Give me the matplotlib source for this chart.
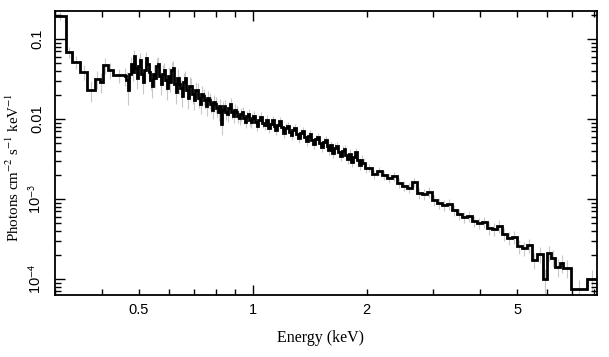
import numpy as np
import matplotlib
matplotlib.use("Agg")
import matplotlib.pyplot as plt

# ---------------- data ----------------
# low-energy wide bins
edges_low = [0.300, 0.320, 0.333, 0.350, 0.365, 0.382, 0.394, 0.402, 0.413, 0.427, 0.4585]
flux_low = [0.194, 0.0688, 0.0516, 0.039, 0.023, 0.0316, 0.029, 0.0473, 0.041, 0.0355]
err_low = [0.12, 0.15, 0.18, 0.22, 0.30, 0.25, 0.28, 0.22, 0.22, 0.20]

# dense region 0.46 - 1 keV (each coarse bin holds two channels)
edges_a = [0.4670, 0.4756, 0.4844, 0.4933, 0.5024, 0.5117, 0.5211, 0.5307, 0.5405,
           0.5505, 0.5607, 0.5710, 0.5815, 0.5923, 0.6032, 0.6143, 0.6256, 0.6372,
           0.6489, 0.6609, 0.6730, 0.6855, 0.6981, 0.7111, 0.7242, 0.7375, 0.7512,
           0.7650, 0.7791, 0.7935, 0.8081, 0.8229, 0.8381, 0.8536, 0.8693, 0.8853,
           0.9016, 0.9183, 0.9352, 0.9524, 0.9700, 0.9879, 1.0]
flux_a = [0.0345, 0.0307,  0.0230, 0.0365,  0.0487, 0.0387,  0.0613, 0.0434,
          0.0326, 0.0460,  0.0546, 0.0365,  0.0290, 0.0410,  0.0579, 0.0487,
          0.0387, 0.0307,  0.0259, 0.0365,  0.0326, 0.0460,  0.0487, 0.0345,
          0.0274, 0.0365,  0.0410, 0.0307,  0.0244, 0.0345,  0.0290, 0.0410,
          0.0434, 0.0274,  0.0218, 0.0326,  0.0274, 0.0244,  0.0194, 0.0290,
          0.0326, 0.0230,  0.0183, 0.0259,  0.0259, 0.0205,  0.0173, 0.0230,
          0.0230, 0.0183,  0.0154, 0.0205,  0.0194, 0.0173,  0.0145, 0.0183,
          0.0173, 0.0154,  0.0130, 0.0163,  0.0154, 0.0137,  0.0122, 0.0145,
          0.00866, 0.0130, 0.0145, 0.0122,  0.01155, 0.0137, 0.0154, 0.0122,
          0.0109, 0.0130,  0.0122, 0.0109,  0.0103, 0.01155, 0.0122, 0.0103,
          0.00917, 0.0109, 0.01155, 0.0097, 0.00917, 0.0103]
err_a = [0.25, 0.35, 0.22, 0.20, 0.28, 0.22, 0.30, 0.20, 0.25, 0.30, 0.26, 0.22,
         0.28, 0.24, 0.30, 0.26, 0.22, 0.30, 0.26, 0.28, 0.22, 0.28, 0.24, 0.26,
         0.24, 0.26, 0.22, 0.24, 0.22, 0.24, 0.22, 0.22, 0.28, 0.20, 0.20, 0.18,
         0.18, 0.18, 0.18, 0.16, 0.16, 0.16, 0.16]

# 1 - 2 keV (each coarse bin holds two channels)
edges_b = [1.023, 1.047, 1.072, 1.097, 1.122, 1.148, 1.175, 1.202, 1.230, 1.259,
           1.288, 1.318, 1.349, 1.380, 1.413, 1.445, 1.479, 1.514, 1.549, 1.585,
           1.622, 1.660, 1.698, 1.738, 1.778, 1.820, 1.862, 1.905, 1.950, 2.0]
flux_b = [0.0109, 0.00917,  0.00818, 0.0097,  0.01059, 0.00891,  0.00841, 0.0097,
          0.00772, 0.00866, 0.0097, 0.00818,  0.00729, 0.00841,  0.00944, 0.00794,
          0.00668, 0.00772, 0.00818, 0.00688, 0.00631, 0.00729,  0.00772, 0.00649,
          0.00579, 0.00668, 0.00708, 0.00596, 0.00531, 0.00613,  0.00649, 0.00546,
          0.00487, 0.00562, 0.00596, 0.00501, 0.00447, 0.00516,  0.00546, 0.00460,
          0.00410, 0.00473, 0.00376, 0.00434, 0.00460, 0.00387,  0.00345, 0.00398,
          0.00422, 0.00355, 0.00316, 0.00365, 0.00290, 0.00335,  0.00387, 0.00307,
          0.00266, 0.00307, 0.00282, 0.00244]
err_b = [0.14, 0.14, 0.14, 0.14, 0.14, 0.13, 0.14, 0.13, 0.14, 0.13, 0.13, 0.13,
         0.13, 0.13, 0.13, 0.13, 0.13, 0.13, 0.13, 0.13, 0.13, 0.14, 0.13, 0.14,
         0.13, 0.14, 0.14, 0.13, 0.14, 0.14]

# 2 - 5.5 keV
edges_c = [2.065, 2.128, 2.194, 2.262, 2.332, 2.404, 2.479, 2.555, 2.634, 2.716,
           2.800, 2.886, 2.976, 3.068, 3.162, 3.260, 3.361, 3.465, 3.572, 3.683,
           3.797, 3.914, 4.035, 4.159, 4.289, 4.421, 4.558, 4.699, 4.844, 4.994,
           5.148, 5.308, 5.46]
flux_c = [0.00244, 0.002054, 0.002239, 0.001995, 0.001830, 0.001939, 0.001585,
          0.001454, 0.001372, 0.001631, 0.001189, 0.001155, 0.001223, 0.000972,
          0.000891, 0.000841, 0.000866, 0.000729, 0.000649, 0.000596, 0.000613,
          0.000531, 0.000501, 0.000516, 0.000434, 0.000422, 0.000460, 0.000365,
          0.000326, 0.000335, 0.000259, 0.000244, 0.000266]
err_c = [0.12, 0.13, 0.12, 0.13, 0.13, 0.13, 0.14, 0.14, 0.14, 0.13, 0.15, 0.15,
         0.15, 0.15, 0.15, 0.15, 0.15, 0.16, 0.16, 0.16, 0.16, 0.17, 0.17, 0.17,
         0.18, 0.18, 0.18, 0.19, 0.19, 0.19, 0.20, 0.20, 0.20]

# high-energy tail
edges_d = [5.63, 5.84, 5.98, 6.13, 6.30, 6.49, 6.62, 6.93, 7.64, 8.13]
flux_d = [0.000173, 0.000205, 0.000100, 0.000213, 0.000185, 0.000141, 0.000160,
          0.000137, 0.000075, 0.000100]
err_d = [0.22, 0.22, 0.35, 0.22, 0.24, 0.26, 0.26, 0.25, 0.30, 0.30]


def split_edges(lo, coarse):
    """Insert the geometric mid-point of each coarse bin (two channels per bin)."""
    e = np.array([lo] + coarse)
    mids = np.sqrt(e[:-1] * e[1:])
    return list(np.sort(np.concatenate([e[1:], mids])))


fine_a = split_edges(edges_low[-1], edges_a)
fine_b = split_edges(edges_a[-1], edges_b)

edges = np.array(edges_low + fine_a + fine_b + edges_c + edges_d)
flux = np.array(flux_low + flux_a + flux_b + flux_c + flux_d)
rel_err = np.concatenate([err_low, np.repeat(err_a, 2), np.repeat(err_b, 2), err_c, err_d])

# ---------------- plot ----------------
plt.rcParams['mathtext.fontset'] = 'stix'
sans = ['Liberation Sans', 'DejaVu Sans']
serif = ['Liberation Serif', 'DejaVu Serif']

fig = plt.figure(figsize=(6.09, 3.57), dpi=100)
ax = fig.add_axes([55 / 609, 1 - 295 / 357, 542 / 609, 284 / 357])
ax.set_xscale('log')
ax.set_yscale('log')

centers = np.sqrt(edges[:-1] * edges[1:])
ax.errorbar(centers, flux, yerr=flux * rel_err, fmt='none', ecolor='#c8c8c8',
            elinewidth=0.8, zorder=1)
ax.stairs(flux, edges, baseline=None, color='black', linewidth=2.0, zorder=2)

ax.set_xlim(0.3, 8.13)
ax.set_ylim(6.3e-5, 0.224)

# x ticks
ax.set_xticks([1], ['1'])
minor_x = [0.3, 0.4, 0.5, 0.6, 0.7, 0.8, 0.9, 2, 3, 4, 5, 6, 7, 8]
minor_lab = ['' if v not in (0.5, 2, 5) else ('0.5' if v == 0.5 else str(v)) for v in minor_x]
ax.set_xticks(minor_x, minor_lab, minor=True)

# y ticks
ax.set_yticks([1e-4, 1e-3, 1e-2, 1e-1],
              [r'10$^{\mathsf{-4}}$', r'10$^{\mathsf{-3}}$', '0.01', '0.1'])
ax.yaxis.set_minor_locator(matplotlib.ticker.LogLocator(base=10, subs=np.arange(2, 10), numticks=20))
ax.yaxis.set_minor_formatter(matplotlib.ticker.NullFormatter())

ax.tick_params(which='both', direction='in', top=True, right=True, width=1.0,
               labelsize=10.5, colors='black')
ax.tick_params(which='major', length=7)
ax.tick_params(which='minor', length=4)
ax.tick_params(axis='x', which='both', pad=6)
ax.tick_params(axis='y', which='both', pad=8, labelrotation=90)
for lab in ax.get_xticklabels(which='both') + ax.get_yticklabels(which='both'):
    lab.set_family(sans)
for lab in ax.get_yticklabels():
    lab.set_va('center')

for sp in ax.spines.values():
    sp.set_linewidth(1.3)

ax.set_xlabel('Energy (keV)', family=serif, fontsize=11.5)
ax.set_ylabel(r'Photons cm$^{-2}$ s$^{-1}$ keV$^{-1}$', family=serif, fontsize=10.8)
ax.xaxis.set_label_coords(0.49, -0.123)
ax.yaxis.set_label_coords(-0.061, 0.45)

fig.savefig('out.png', dpi=100)
